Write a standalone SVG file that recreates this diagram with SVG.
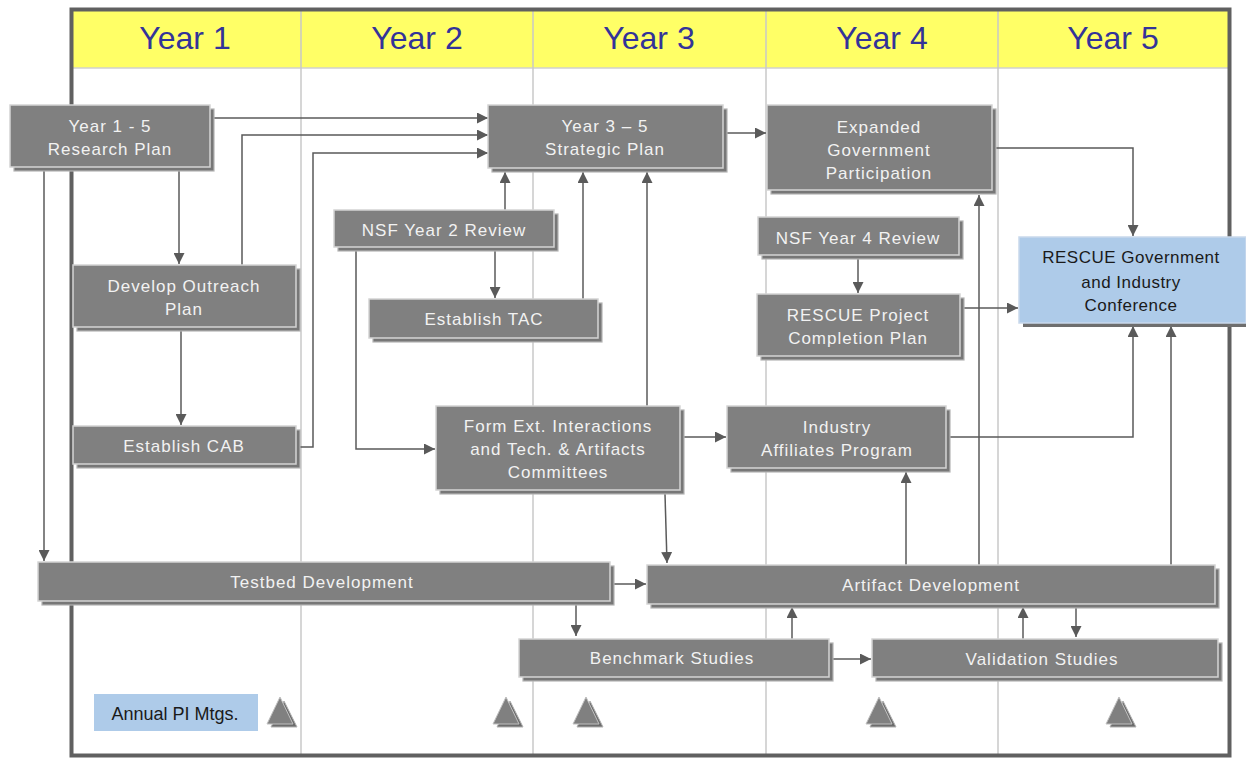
<svg xmlns="http://www.w3.org/2000/svg" width="1246" height="759" viewBox="0 0 1246 759">
<style>
.sh{fill:#777;stroke:#b4b4b4;stroke-width:1.2}
.bx{fill:#808080;stroke:#d4d4d4;stroke-width:1.5}
.bl{fill:#aecbe9;stroke:#c9d9ec;stroke-width:1.5}
.t{font-family:"Liberation Sans",Arial,sans-serif;font-size:17px;fill:#f2f2f2;text-anchor:middle;letter-spacing:1px}
.td{font-family:"Liberation Sans",Arial,sans-serif;font-size:17px;fill:#1a1a1a;text-anchor:middle;letter-spacing:0.5px}
.yr{font-family:"Liberation Sans",Arial,sans-serif;font-size:32px;fill:#333399;text-anchor:middle}
.col{stroke:#c8c8c8;stroke-width:1.5}
.c{fill:none;stroke:#5a5a5a;stroke-width:1.5;marker-end:url(#ah)}
.tri{fill:#808080;stroke:#c0c0c0;stroke-width:1}
.tris{fill:#6c6c6c;stroke:#b0b0b0;stroke-width:1}
</style>
<defs>
<marker id="ah" viewBox="0 0 10 10" refX="10" refY="5" markerWidth="11" markerHeight="11" markerUnits="userSpaceOnUse" orient="auto">
<path d="M0,0 L10,5 L0,10 z" fill="#5a5a5a"/>
</marker>
</defs>
<rect width="1246" height="759" fill="#ffffff"/>
<g id="frame">
<rect x="72" y="11" width="1157" height="57" fill="#ffff66"/>
<line x1="72" y1="68" x2="1229" y2="68" stroke="#d0d0d0" stroke-width="1.5"/>
<line class="col" x1="301" y1="11" x2="301" y2="755"/>
<line class="col" x1="533" y1="11" x2="533" y2="755"/>
<line class="col" x1="766" y1="11" x2="766" y2="755"/>
<line class="col" x1="998" y1="11" x2="998" y2="755"/>
<rect x="71.5" y="9.5" width="1158" height="746" fill="none" stroke="#606060" stroke-width="4"/>
<text class="yr" x="185" y="49">Year 1</text>
<text class="yr" x="417" y="49">Year 2</text>
<text class="yr" x="649" y="49">Year 3</text>
<text class="yr" x="882" y="49">Year 4</text>
<text class="yr" x="1113" y="49">Year 5</text>
</g>
<g id="connectors">
<path class="c" d="M212,118 H488"/>
<path class="c" d="M242,265 V135 H488"/>
<path class="c" d="M299,447 H313 V153 H488"/>
<path class="c" d="M179,171 V264"/>
<path class="c" d="M181,331 V425"/>
<path class="c" d="M44,171 V561"/>
<path class="c" d="M505,210 V172"/>
<path class="c" d="M495,251 V298"/>
<path class="c" d="M583,299 V172"/>
<path class="c" d="M356,251 V449 H435"/>
<path class="c" d="M647,406 V172"/>
<path class="c" d="M727,133 H766"/>
<path class="c" d="M684,437 H726"/>
<path class="c" d="M665,494 L667,563"/>
<path class="c" d="M613,584 H646"/>
<path class="c" d="M576,605 V636"/>
<path class="c" d="M792,639 V607"/>
<path class="c" d="M833,659 H871"/>
<path class="c" d="M1023,639 V607"/>
<path class="c" d="M1076,608 V637"/>
<path class="c" d="M906,565 V472"/>
<path class="c" d="M979,565 V195"/>
<path class="c" d="M1171,565 V326"/>
<path class="c" d="M950,437 H1133 V326"/>
<path class="c" d="M996,148 H1133 V236"/>
<path class="c" d="M964,308 H1018"/>
<path class="c" d="M858,259 V293"/>
</g>
<g id="n-research">
<rect class="sh" x="14" y="109" width="200" height="62"/>
<rect class="bx" x="10" y="105" width="200" height="62"/>
<text class="t" x="110" y="132">Year 1 - 5</text>
<text class="t" x="110" y="155">Research Plan</text>
</g>
<g id="n-strategic">
<rect class="sh" x="492" y="109" width="235" height="63"/>
<rect class="bx" x="488" y="105" width="235" height="63"/>
<text class="t" x="605" y="132">Year 3 – 5</text>
<text class="t" x="605" y="155">Strategic Plan</text>
</g>
<g id="n-expanded">
<rect class="sh" x="771" y="109" width="225" height="85"/>
<rect class="bx" x="767" y="105" width="225" height="85"/>
<text class="t" x="879" y="133">Expanded</text>
<text class="t" x="879" y="156">Government</text>
<text class="t" x="879" y="179">Participation</text>
</g>
<g id="n-nsf2">
<rect class="sh" x="338" y="214" width="220" height="37"/>
<rect class="bx" x="334" y="210" width="220" height="37"/>
<text class="t" x="444" y="236">NSF Year 2 Review</text>
</g>
<g id="n-tac">
<rect class="sh" x="373" y="303" width="229" height="39"/>
<rect class="bx" x="369" y="299" width="229" height="39"/>
<text class="t" x="484" y="325">Establish TAC</text>
</g>
<g id="n-outreach">
<rect class="sh" x="77" y="269" width="223" height="62"/>
<rect class="bx" x="73" y="265" width="223" height="62"/>
<text class="t" x="184" y="292">Develop Outreach</text>
<text class="t" x="184" y="315">Plan</text>
</g>
<g id="n-cab">
<rect class="sh" x="77" y="430" width="223" height="38"/>
<rect class="bx" x="73" y="426" width="223" height="38"/>
<text class="t" x="184" y="452">Establish CAB</text>
</g>
<g id="n-nsf4">
<rect class="sh" x="762" y="221" width="201" height="38"/>
<rect class="bx" x="758" y="217" width="201" height="38"/>
<text class="t" x="858" y="244">NSF Year 4 Review</text>
</g>
<g id="n-completion">
<rect class="sh" x="761" y="298" width="203" height="62"/>
<rect class="bx" x="757" y="294" width="203" height="62"/>
<text class="t" x="858" y="321">RESCUE Project</text>
<text class="t" x="858" y="344">Completion Plan</text>
</g>
<g id="n-conference">
<rect x="1023" y="241" width="223" height="86" fill="#6e6e6e"/>
<rect class="bl" x="1019" y="237" width="227" height="86"/>
<text class="td" x="1131" y="263">RESCUE Government</text>
<text class="td" x="1131" y="288">and Industry</text>
<text class="td" x="1131" y="311">Conference</text>
</g>
<g id="n-formext">
<rect class="sh" x="440" y="410" width="244" height="84"/>
<rect class="bx" x="436" y="406" width="244" height="84"/>
<text class="t" x="558" y="432">Form Ext. Interactions</text>
<text class="t" x="558" y="455">and Tech. &amp; Artifacts</text>
<text class="t" x="558" y="478">Committees</text>
</g>
<g id="n-industry">
<rect class="sh" x="731" y="410" width="219" height="62"/>
<rect class="bx" x="727" y="406" width="219" height="62"/>
<text class="t" x="837" y="433">Industry</text>
<text class="t" x="837" y="456">Affiliates Program</text>
</g>
<g id="n-testbed">
<rect class="sh" x="42" y="566" width="572" height="39"/>
<rect class="bx" x="38" y="562" width="572" height="39"/>
<text class="t" x="322" y="588">Testbed Development</text>
</g>
<g id="n-artifact">
<rect class="sh" x="651" y="569" width="568" height="39"/>
<rect class="bx" x="647" y="565" width="568" height="39"/>
<text class="t" x="931" y="591">Artifact Development</text>
</g>
<g id="n-benchmark">
<rect class="sh" x="523" y="643" width="310" height="38"/>
<rect class="bx" x="519" y="639" width="310" height="38"/>
<text class="t" x="672" y="664">Benchmark Studies</text>
</g>
<g id="n-validation">
<rect class="sh" x="876" y="643" width="346" height="38"/>
<rect class="bx" x="872" y="639" width="346" height="38"/>
<text class="t" x="1042" y="665">Validation Studies</text>
</g>
<g id="n-annual">
<rect x="94" y="694" width="164" height="37" fill="#aecbe9"/>
<text class="td" x="175" y="720" style="letter-spacing:0;font-size:18px">Annual PI Mtgs.</text>
</g>
<g id="milestones">
<path class="tris" d="M284,701 L297,727 L271,727 z"/>
<path class="tri" d="M280,697 L293,724 L267,724 z"/>
<path class="tris" d="M510,701 L523,727 L497,727 z"/>
<path class="tri" d="M506,697 L519,724 L493,724 z"/>
<path class="tris" d="M590,701 L603,727 L577,727 z"/>
<path class="tri" d="M586,697 L599,724 L573,724 z"/>
<path class="tris" d="M883,701 L896,727 L870,727 z"/>
<path class="tri" d="M879,697 L892,724 L866,724 z"/>
<path class="tris" d="M1123,701 L1136,727 L1110,727 z"/>
<path class="tri" d="M1119,697 L1132,724 L1106,724 z"/>
</g>
</svg>
